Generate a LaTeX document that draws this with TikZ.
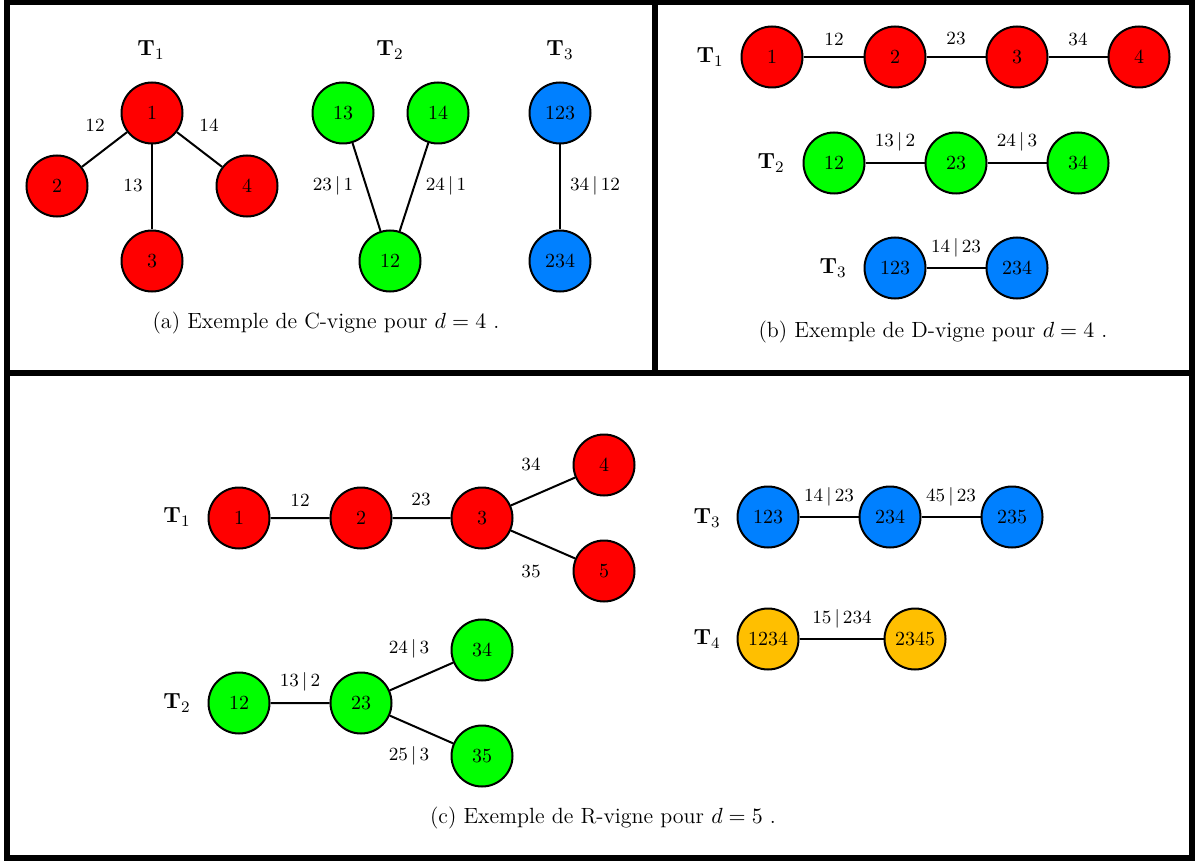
\documentclass[tikz,border=0pt]{standalone}
\usepackage{amsmath}
\usepackage{amssymb}
\usepackage{tikz}
\usepackage{xcolor}

\definecolor{vred}{RGB}{255,0,0}
\definecolor{vgreen}{RGB}{0,255,0}
\definecolor{vblue}{RGB}{0,128,255}
\definecolor{vorange}{RGB}{255,191,0}

\tikzset{
    vertex/.style={circle, draw=black, line width=1pt, minimum size=30.5pt, inner sep=0pt, font=\fontsize{10}{12}\selectfont},
    edge/.style={line width=1pt},
    elabel/.style={inner sep=1pt, font=\fontsize{9.3}{11}\selectfont},
    treename/.style={font=\fontsize{11}{13}\selectfont},
    caption/.style={font=\fontsize{11}{13}\selectfont},
    frame/.style={line width=3pt}
}

\begin{document}
\begin{tikzpicture}[x=0.5pt, y=-0.5pt]
    \useasboundingbox (0,0) rectangle (1198,861);
    \draw[frame] (7,2.5) rectangle (1192,858);
    \draw[frame] (7,373) -- (1192,373);
    \draw[frame] (655,2.5) -- (655,373);

    % (a) C-vigne
    \node[treename] (ta1) at (151,50) {$\mathbf{T}_1$};
    \node[treename] (ta2) at (390,50) {$\mathbf{T}_2$};
    \node[treename] (ta3) at (560,50) {$\mathbf{T}_3$};
    \node[vertex, fill=vred] (a1) at (152,113) {1};
    \node[vertex, fill=vred] (a2) at (57,186) {2};
    \node[vertex, fill=vred] (a4) at (247,186) {4};
    \node[vertex, fill=vred] (a3) at (152,261) {3};
    \draw[edge] (a1) -- (a2);
    \draw[edge] (a1) -- (a4);
    \draw[edge] (a1) -- (a3);
    \node[elabel] (la12) at (95,125) {12};
    \node[elabel] (la14) at (209,125) {14};
    \node[elabel] (la13) at (133,186) {13};
    \node[vertex, fill=vgreen] (a13) at (343,113) {13};
    \node[vertex, fill=vgreen] (a14) at (438,113) {14};
    \node[vertex, fill=vgreen] (a12) at (390,261) {12};
    \draw[edge] (a13) -- (a12);
    \draw[edge] (a14) -- (a12);
    \node[elabel] (la231) at (333,186) {23\,|\,1};
    \node[elabel] (la241) at (446,186) {24\,|\,1};
    \node[vertex, fill=vblue] (a123) at (560,113) {123};
    \node[vertex, fill=vblue] (a234) at (560,261) {234};
    \draw[edge] (a123) -- (a234);
    \node[elabel] (la3412) at (595,186) {34\,|\,12};
    \node[caption] (capa) at (326,323) {(a) Exemple de C-vigne pour $d = 4$ .};

    % (b) D-vigne
    \node[treename] (tb1) at (710,57) {$\mathbf{T}_1$};
    \node[vertex, fill=vred] (b1) at (772,57) {1};
    \node[vertex, fill=vred] (b2) at (895,57) {2};
    \node[vertex, fill=vred] (b3) at (1017,57) {3};
    \node[vertex, fill=vred] (b4) at (1139,57) {4};
    \draw[edge] (b1) -- (b2) -- (b3) -- (b4);
    \node[elabel] (lb12) at (834,39) {12};
    \node[elabel] (lb23) at (956,39) {23};
    \node[elabel] (lb34) at (1078,39) {34};
    \node[treename] (tb2) at (771,163) {$\mathbf{T}_2$};
    \node[vertex, fill=vgreen] (b12) at (834,163) {12};
    \node[vertex, fill=vgreen] (b23) at (956,163) {23};
    \node[vertex, fill=vgreen] (b34) at (1078,163) {34};
    \draw[edge] (b12) -- (b23) -- (b34);
    \node[elabel] (lb132) at (895,142) {13\,|\,2};
    \node[elabel] (lb243) at (1017,142) {24\,|\,3};
    \node[treename] (tb3) at (833,268) {$\mathbf{T}_3$};
    \node[vertex, fill=vblue] (b123) at (895,268) {123};
    \node[vertex, fill=vblue] (b234) at (1017,268) {234};
    \draw[edge] (b123) -- (b234);
    \node[elabel] (lb1423) at (956,248) {14\,|\,23};
    \node[caption] (capb) at (933,332) {(b) Exemple de D-vigne pour $d = 4$ .};

    % (c) R-vigne
    \node[treename] (tc1) at (177,517) {$\mathbf{T}_1$};
    \node[vertex, fill=vred] (c1) at (239,518) {1};
    \node[vertex, fill=vred] (c2) at (361,518) {2};
    \node[vertex, fill=vred] (c3) at (482,518) {3};
    \node[vertex, fill=vred] (c4) at (604,465) {4};
    \node[vertex, fill=vred] (c5) at (604,571) {5};
    \draw[edge] (c1) -- (c2) -- (c3) -- (c4);
    \draw[edge] (c3) -- (c5);
    \node[elabel] (lc12) at (300,500) {12};
    \node[elabel] (lc23) at (421,500) {23};
    \node[elabel] (lc34) at (531,464) {34};
    \node[elabel] (lc35) at (531,572) {35};
    \node[treename] (tc2) at (177,703) {$\mathbf{T}_2$};
    \node[vertex, fill=vgreen] (c12) at (239,703) {12};
    \node[vertex, fill=vgreen] (c23) at (361,703) {23};
    \node[vertex, fill=vgreen] (c34) at (482,650) {34};
    \node[vertex, fill=vgreen] (c35) at (482,756) {35};
    \draw[edge] (c12) -- (c23) -- (c34);
    \draw[edge] (c23) -- (c35);
    \node[elabel] (lc132) at (300,682) {13\,|\,2};
    \node[elabel] (lc243) at (409,649) {24\,|\,3};
    \node[elabel] (lc253) at (409,756) {25\,|\,3};
    \node[treename] (tc3) at (707,518) {$\mathbf{T}_3$};
    \node[vertex, fill=vblue] (c123) at (768,517) {123};
    \node[vertex, fill=vblue] (c234) at (890,517) {234};
    \node[vertex, fill=vblue] (c235) at (1012,517) {235};
    \draw[edge] (c123) -- (c234) -- (c235);
    \node[elabel] (lc1423) at (829,497) {14\,|\,23};
    \node[elabel] (lc4523) at (951,497) {45\,|\,23};
    \node[treename] (tc4) at (707,639) {$\mathbf{T}_4$};
    \node[vertex, fill=vorange] (c1234) at (768,639) {1234};
    \node[vertex, fill=vorange] (c2345) at (915,639) {2345};
    \draw[edge] (c1234) -- (c2345);
    \node[elabel] (lc15234) at (842,619) {15\,|\,234};
    \node[caption] (capc) at (603,818) {(c) Exemple de R-vigne pour $d = 5$ .};
\end{tikzpicture}
\end{document}
